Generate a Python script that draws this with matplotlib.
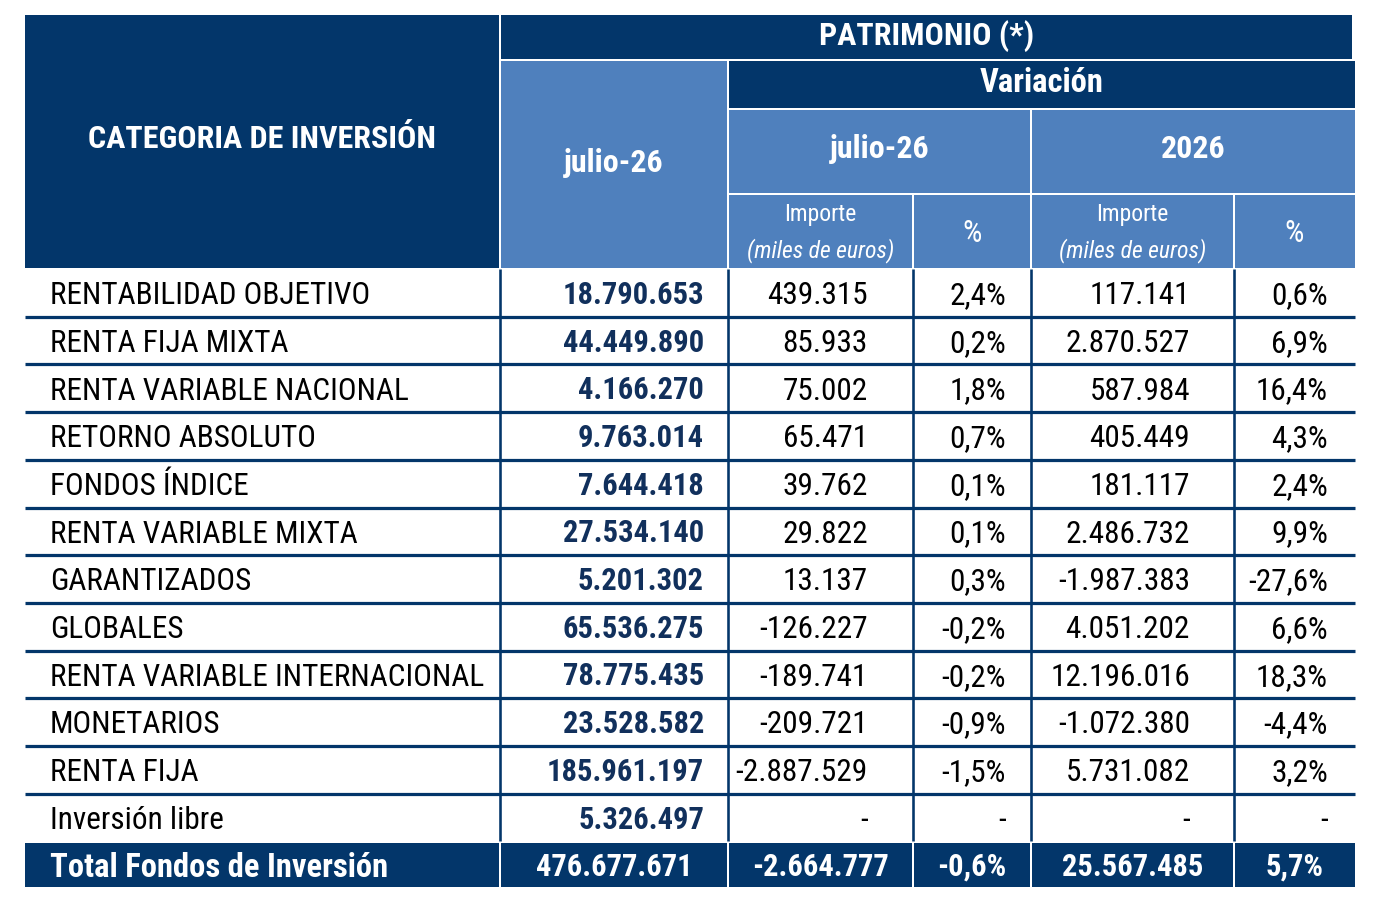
import matplotlib.pyplot as plt
from matplotlib.patches import Rectangle

# condensed face close to Arial Narrow, DejaVu as fallback
plt.rcParams['font.family'] = ['Roboto Condensed', 'DejaVu Sans']

categories = ['RENTABILIDAD OBJETIVO', 'RENTA FIJA MIXTA', 'RENTA VARIABLE NACIONAL',
              'RETORNO ABSOLUTO', 'FONDOS ÍNDICE', 'RENTA VARIABLE MIXTA',
              'GARANTIZADOS', 'GLOBALES', 'RENTA VARIABLE INTERNACIONAL',
              'MONETARIOS', 'RENTA FIJA', 'Inversión libre']
patrimonio = ['18.790.653', '44.449.890', '4.166.270', '9.763.014', '7.644.418',
              '27.534.140', '5.201.302', '65.536.275', '78.775.435', '23.528.582',
              '185.961.197', '5.326.497']
var_mes_importe = ['439.315', '85.933', '75.002', '65.471', '39.762', '29.822',
                   '13.137', '-126.227', '-189.741', '-209.721', '-2.887.529', '-']
var_mes_pct = ['2,4%', '0,2%', '1,8%', '0,7%', '0,1%', '0,1%', '0,3%', '-0,2%',
               '-0,2%', '-0,9%', '-1,5%', '-']
var_anio_importe = ['117.141', '2.870.527', '587.984', '405.449', '181.117',
                    '2.486.732', '-1.987.383', '4.051.202', '12.196.016',
                    '-1.072.380', '5.731.082', '-']
var_anio_pct = ['0,6%', '6,9%', '16,4%', '4,3%', '2,4%', '9,9%', '-27,6%', '6,6%',
                '18,3%', '-4,4%', '3,2%', '-']
total_label = 'Total Fondos de Inversión'
total_values = ['476.677.671', '-2.664.777', '-0,6%', '25.567.485', '5,7%']

DARK = '#03366A'
LIGHT = '#4F80BD'
NAVY_TXT = '#11305C'

W, H = 1378, 918
fig = plt.figure(figsize=(W / 100, H / 100), dpi=100)
ax = fig.add_axes([0, 0, 1, 1])
ax.set_xlim(0, W)
ax.set_ylim(H, 0)
ax.axis('off')

cols = [25, 500, 728, 913, 1031, 1234, 1355]
top_data = 269
row_h = 47.7
n = len(categories)
gap = 1.2


def px(p):
    return p * 72 / 100  # pixels -> points


def cell(x0, x1, y0, y1, color):
    ax.add_patch(Rectangle((x0 + gap, y0 + gap), x1 - x0 - 2 * gap, y1 - y0 - 2 * gap,
                           facecolor=color, edgecolor='none', zorder=1))


def put(x, ymid, s, size, ha='center', weight='normal', color='white', style='normal'):
    ax.text(x, ymid + 0.36 * size * 100 / 72, s, ha=ha, va='baseline', fontsize=size,
            fontweight=weight, color=color, fontstyle=style, zorder=3)


# header cells
cell(cols[0] - gap, cols[1], 14, top_data, DARK)
cell(cols[1], 1353, 14, 60, DARK)
cell(cols[1], cols[2], 60, top_data, LIGHT)
cell(cols[2], cols[6] + gap, 60, 109, DARK)
cell(cols[2], cols[4], 109, 194, LIGHT)
cell(cols[4], cols[6] + gap, 109, 194, LIGHT)
for i in range(2, 6):
    cell(cols[i], cols[i + 1] + (gap if i == 5 else 0), 194, top_data, LIGHT)

put((cols[0] + cols[1]) / 2, 137, 'CATEGORIA DE INVERSIÓN', 23, weight='bold')
put((cols[1] + 1353) / 2, 33, 'PATRIMONIO (*)', 23, weight='bold')
put((cols[1] + cols[2]) / 2, 160, 'julio-26', 23, weight='bold')
put((cols[2] + cols[6]) / 2, 80, 'Variación', 23.5, weight='bold')
put((cols[2] + cols[4]) / 2, 146, 'julio-26', 23, weight='bold')
put((cols[4] + cols[6]) / 2, 146, '2026', 23, weight='bold')
for i in (2, 4):
    xc = (cols[i] + cols[i + 1]) / 2
    put(xc, 212, 'Importe', 17)
    put(xc, 249, '(miles de euros)', 17, style='italic')
    put((cols[i + 1] + cols[i + 2]) / 2, 231, '%', 22)

# data rows
right_pad = [24, 45, 25, 44, 27]
for r in range(n):
    ymid = top_data + row_h * (r + 0.5)
    put(50, ymid, categories[r], 22.5, ha='left', color='black')
    vals = [patrimonio[r], var_mes_importe[r], var_mes_pct[r],
            var_anio_importe[r], var_anio_pct[r]]
    for j, v in enumerate(vals):
        xr = cols[j + 2] - right_pad[j]
        if j == 0:
            put(xr, ymid, v, 22, ha='right', weight='bold', color=NAVY_TXT)
        else:
            put(xr, ymid, v, 22.5, ha='right', color='black')

# grid lines of the body
bottom_data = top_data + row_h * n
for r in range(1, n):
    y = top_data + row_h * r
    ax.plot([cols[0], cols[6]], [y, y], color=DARK, lw=px(3.2), solid_capstyle='butt', zorder=2)
for x in cols[1:6]:
    ax.plot([x, x], [top_data, bottom_data], color=DARK, lw=px(2.6), solid_capstyle='butt', zorder=2)

# total row
ty0, ty1 = bottom_data, bottom_data + 47
for i in range(6):
    cell(cols[i] - (gap if i == 0 else 0), cols[i + 1] + (gap if i == 5 else 0), ty0, ty1, DARK)
tmid = (ty0 + ty1) / 2
put(50, tmid, total_label, 23.5, ha='left', weight='bold')
for j, v in enumerate(total_values):
    put((cols[j + 1] + cols[j + 2]) / 2, tmid, v, 22, weight='bold')

fig.savefig('out.png', dpi=100, facecolor='white')
